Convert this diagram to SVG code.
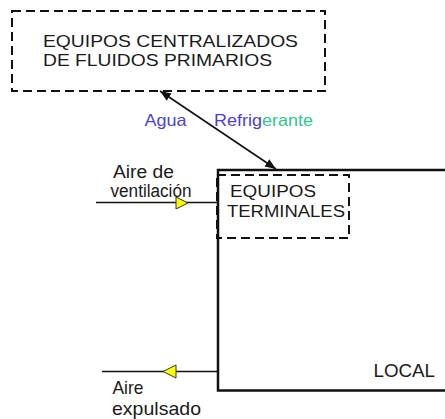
<svg xmlns="http://www.w3.org/2000/svg" width="445" height="419" viewBox="0 0 445 419">
<style>
text{font-family:"Liberation Sans",Arial,sans-serif;fill:#1a1a1a}
.dash{fill:none;stroke:#111;stroke-width:2;stroke-dasharray:9 5}
.solid{fill:none;stroke:#111}
.tri{fill:#ffff00;stroke:#333;stroke-width:1;stroke-linejoin:round}
.blue{fill:#4a40d8}
.green{fill:#2ec88e}
</style>
<defs>
<marker id="ah" viewBox="0 0 10 10" refX="10" refY="5" markerWidth="11" markerHeight="11" markerUnits="userSpaceOnUse" orient="auto-start-reverse">
<path d="M0,1 L10,5 L0,9 Z" fill="#111"/>
</marker>
</defs>
<rect width="445" height="419" fill="#ffffff"/>
<g id="central">
<rect class="dash" x="12" y="11" width="313" height="80"/>
<text x="43" y="47" font-size="16.5" textLength="255" lengthAdjust="spacingAndGlyphs">EQUIPOS CENTRALIZADOS</text>
<text x="43" y="66" font-size="16.5" textLength="229" lengthAdjust="spacingAndGlyphs">DE FLUIDOS PRIMARIOS</text>
</g>
<g id="local">
<path class="solid" stroke-width="2.5" d="M447,170 H218 V390.5 H447"/>
<text x="373.5" y="376.5" font-size="19" textLength="61.5" lengthAdjust="spacingAndGlyphs">LOCAL</text>
</g>
<g id="terminales">
<rect class="dash" x="217" y="175" width="132" height="63"/>
<text x="230" y="197" font-size="16" textLength="86" lengthAdjust="spacingAndGlyphs">EQUIPOS</text>
<text x="227" y="217" font-size="16" textLength="118" lengthAdjust="spacingAndGlyphs">TERMINALES</text>
</g>
<g id="connectors">
<line class="solid" stroke-width="1.6" x1="160" y1="91" x2="276" y2="169" marker-start="url(#ah)" marker-end="url(#ah)"/>
<text x="144.5" y="125.5" font-size="16.5" class="blue" textLength="42" lengthAdjust="spacingAndGlyphs">Agua</text>
<text x="214" y="125.5" font-size="16.5" textLength="99" lengthAdjust="spacingAndGlyphs"><tspan class="blue">Refrig</tspan><tspan class="green">erante</tspan></text>
<line class="solid" stroke-width="1.3" x1="96" y1="202.5" x2="218" y2="202.5"/>
<polygon class="tri" points="176,197 188,203 176,209"/>
<text x="113" y="178" font-size="18" textLength="61" lengthAdjust="spacingAndGlyphs">Aire de</text>
<text x="110.5" y="196.5" font-size="18" textLength="81" lengthAdjust="spacingAndGlyphs">ventilación</text>
<line class="solid" stroke-width="1.3" x1="102" y1="371.5" x2="218" y2="371.5"/>
<polygon class="tri" points="163,371.5 176,365 176,378"/>
<text x="112.5" y="394" font-size="19" textLength="31" lengthAdjust="spacingAndGlyphs">Aire</text>
<text x="112" y="415" font-size="19" textLength="89" lengthAdjust="spacingAndGlyphs">expulsado</text>
</g>
</svg>
